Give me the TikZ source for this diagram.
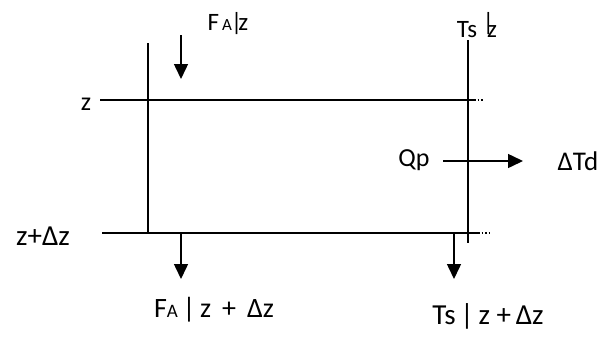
\documentclass[tikz,border=0pt]{standalone}
\usepackage{fontspec}
\setmainfont{Carlito}
\usetikzlibrary{arrows.meta}
\begin{document}
\begin{tikzpicture}[x=1pt,y=-1pt,
  ln/.style={line width=1.5pt},
  dl/.style={line width=1.5pt, dotted},
  arr/.style={line width=1.5pt,-{Triangle[length=15pt,width=14pt]}},
  lbl/.style={inner sep=0pt, font=\fontsize{26}{30}\selectfont}]
\useasboundingbox (0,0) rectangle (606,338);
% boundary coordinates
\coordinate (tl) at (100,100);
\coordinate (tr) at (474,100);
\coordinate (tre) at (484,100);
\coordinate (bl) at (102,233);
\coordinate (br) at (478,233);
\coordinate (bre) at (490,233);
\coordinate (lvt) at (148,43);
\coordinate (lvb) at (148,233);
\coordinate (rvt) at (468,40);
\coordinate (rvb) at (468,243);
\draw[ln] (tl) -- (tr);
\draw[dl] (tr) -- (tre);
\draw[ln] (bl) -- (br);
\draw[dl] (br) -- (bre);
\draw[ln] (lvt) -- (lvb);
\draw[ln] (rvt) -- (rvb);
% arrows
\coordinate (a1s) at (181,35);
\coordinate (a1e) at (181,79);
\coordinate (a2s) at (181,233);
\coordinate (a2e) at (181,279);
\coordinate (a3s) at (454,233);
\coordinate (a3e) at (454,279);
\coordinate (a4s) at (443,161);
\coordinate (a4e) at (523,161);
\draw[arr] (a1s) -- (a1e);
\draw[arr] (a2s) -- (a2e);
\draw[arr] (a3s) -- (a3e);
\draw[arr] (a4s) -- (a4e);
% labels
\node[lbl] (z) at (86,104) {z};
\node[lbl, font=\fontsize{29}{33}\selectfont] (zdz) at (43,236) {z+Δz};
\node[lbl, font=\fontsize{25}{29}\selectfont] (faz) at (228,24) {F{\fontsize{17}{19}\selectfont\,A}\kern-1pt|\kern-4pt z};
\node[lbl, font=\fontsize{25}{29}\selectfont] (tsz) at (477,25) {Ts \raisebox{7pt}{|}\kern-7pt z};
\node[lbl] (qp) at (414,160) {Qp};
\node[lbl, font=\fontsize{27}{31}\selectfont] (dtd) at (578,161) {ΔTd};
\node[lbl, font=\fontsize{28}{32}\selectfont] (fazdz) at (214,310) {F{\fontsize{19}{21}\selectfont A}\,|\,z\, +\, Δz};
\node[lbl, font=\fontsize{29}{33}\selectfont] (tszdz) at (488,316) {Ts\,|\,z +\,Δz};
\end{tikzpicture}
\end{document}
